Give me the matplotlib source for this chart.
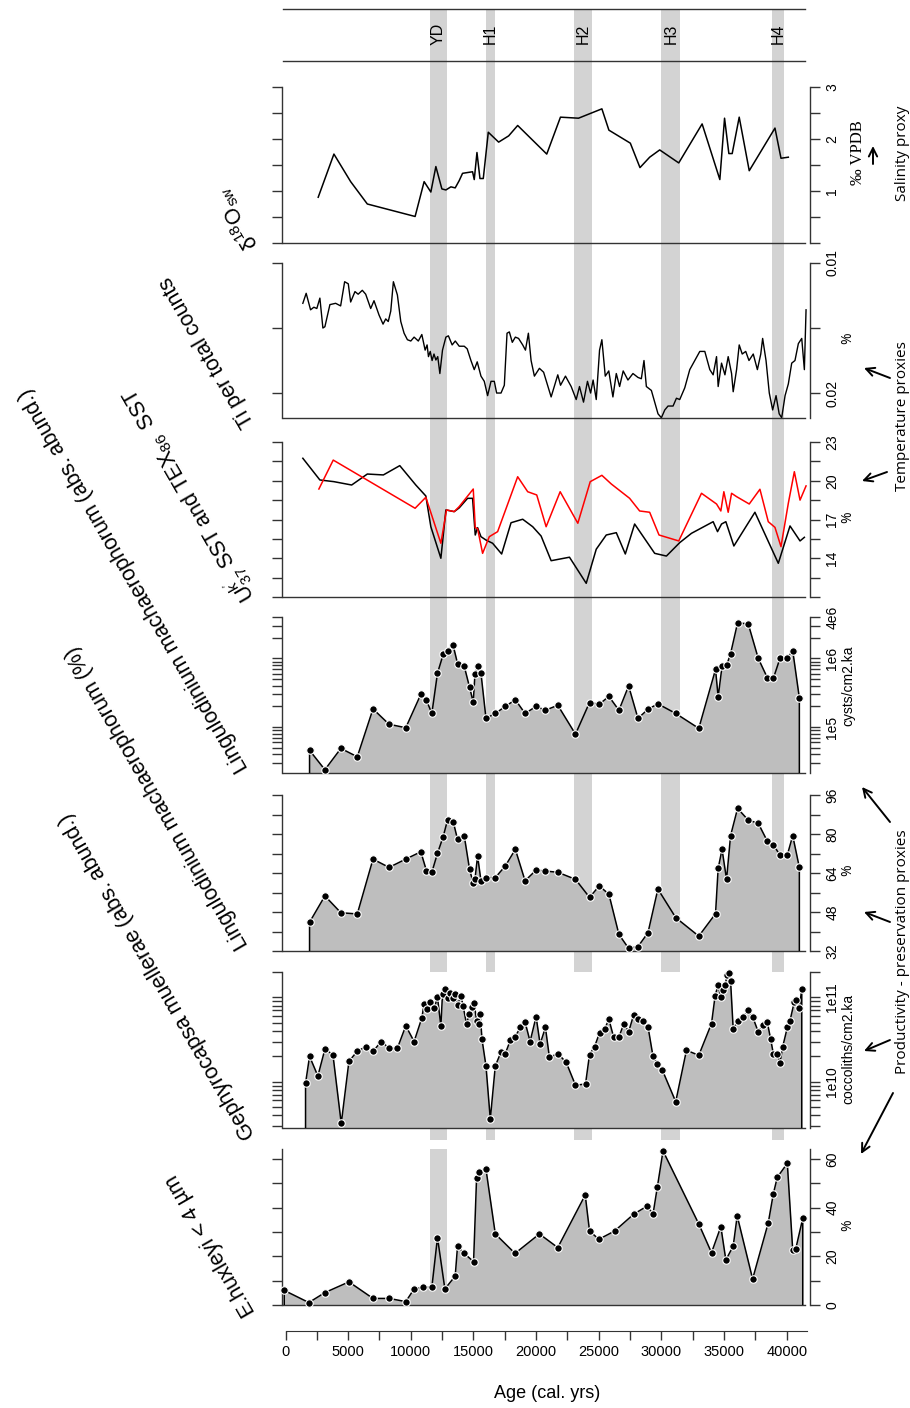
import matplotlib
matplotlib.use('Agg')
import matplotlib.pyplot as plt
from matplotlib.ticker import NullLocator

plt.rcParams['font.family'] = ['Liberation Sans', 'DejaVu Sans']
plt.rcParams['mathtext.fontset'] = 'custom'
plt.rcParams['mathtext.rm'] = 'Liberation Sans'
plt.rcParams['mathtext.it'] = 'Liberation Sans:italic'

# ---------------- data ----------------
event_names = ['YD', 'H1', 'H2', 'H3', 'H4']
event_start = [11500, 16000, 23000, 30000, 38800]
event_end = [12900, 16700, 24500, 31500, 39800]

d18o_age = [2610, 3864, 5200, 6530, 10344, 11064, 11600, 12000, 12480, 12800,
            13200, 13544, 13864, 14130, 14930, 15064, 15280, 15520, 15784, 16184,
            17010, 17810, 18530, 20850, 21944, 23384, 25250, 25810, 27520, 28290,
            29064, 29864, 31384, 33250, 34664, 35040, 35384, 35650, 36210, 37010,
            39064, 39544, 40130]
d18o_val = [0.88, 1.71, 1.18, 0.75, 0.51, 1.18, 0.98, 1.47, 1.04, 1.02,
            1.08, 1.06, 1.20, 1.34, 1.37, 1.22, 1.74, 1.24, 1.24, 2.13,
            1.94, 2.06, 2.26, 1.71, 2.42, 2.40, 2.58, 2.17, 1.92, 1.45,
            1.65, 1.79, 1.54, 2.29, 1.22, 2.40, 1.72, 1.72, 2.42, 1.39,
            2.21, 1.63, 1.65]

ti_age = [1384, 1650, 2000, 2264, 2500, 2744, 2984, 3144, 3544, 4000,
          4400, 4720, 5010, 5200, 5544, 5800, 6130, 6400, 6800, 7064,
          7464, 7784, 8000, 8200, 8400, 8610, 8930, 9200, 9464, 9730,
          10000, 10264, 10600, 10880, 11144, 11300, 11410, 11550, 11700, 11850,
          12000, 12150, 12320, 12530, 12800, 13000, 13300, 13550, 13864, 14264,
          14500, 14800, 15064, 15300, 15600, 15864, 16130, 16400, 16664, 16850,
          17200, 17464, 17680, 17864, 18100, 18344, 18600, 18930, 19150, 19384,
          19600, 19864, 20264, 20600, 21200, 21730, 21950, 22344, 22800, 23200,
          23464, 23784, 24100, 24350, 24550, 24800, 25064, 25250, 25520, 25800,
          26130, 26400, 26664, 26950, 27330, 27730, 28130, 28400, 28610, 28800,
          29200, 29464, 29730, 30000, 30270, 30530, 30930, 31200, 31464, 31864,
          32264, 33064, 33464, 33864, 34130, 34400, 34530, 34800, 35070, 35330,
          35600, 35730, 36000, 36210, 36450, 36730, 36990, 37330, 37660, 37930,
          38080, 38350, 38610, 38880, 39150, 39400, 39600, 39870, 40130, 40400,
          40660, 40930, 41200, 41410, 41544]
ti_val = [0.0131, 0.01233, 0.0136, 0.0134, 0.0135, 0.0127, 0.0150, 0.0149, 0.0132, 0.0131,
          0.0133, 0.01144, 0.0116, 0.0130, 0.0122, 0.0124, 0.0121, 0.0124, 0.0135, 0.0129,
          0.0140, 0.0147, 0.0143, 0.0145, 0.0137, 0.01144, 0.01246, 0.0145, 0.0154, 0.0159,
          0.0160, 0.0157, 0.0160, 0.0155, 0.0167, 0.0163, 0.0172, 0.0168, 0.0175, 0.0170,
          0.01746, 0.0172, 0.0185, 0.0167, 0.0157, 0.0156, 0.0163, 0.0160, 0.0164, 0.0164,
          0.0166, 0.0175, 0.0182, 0.0176, 0.0187, 0.0191, 0.0202, 0.0191, 0.0191, 0.0200,
          0.0200, 0.0194, 0.0154, 0.0153, 0.0161, 0.0157, 0.0158, 0.0163, 0.0167, 0.0154,
          0.0175, 0.0187, 0.0181, 0.0184, 0.0203, 0.0186, 0.0194, 0.0187, 0.0195, 0.0205,
          0.0195, 0.0207, 0.0191, 0.0200, 0.0190, 0.0205, 0.0167, 0.0159, 0.0187, 0.0183,
          0.0203, 0.0185, 0.0195, 0.0183, 0.0190, 0.0185, 0.0188, 0.0189, 0.0175, 0.0195,
          0.0198, 0.0207, 0.0216, 0.0219, 0.0213, 0.0210, 0.0210, 0.0204, 0.0205, 0.0196,
          0.0182, 0.0168, 0.0168, 0.0182, 0.0186, 0.0172, 0.0195, 0.0177, 0.0186, 0.0172,
          0.0185, 0.0199, 0.0182, 0.0163, 0.0170, 0.0168, 0.0175, 0.0170, 0.0182, 0.0170,
          0.0158, 0.0175, 0.0200, 0.0213, 0.0202, 0.0216, 0.0219, 0.0202, 0.0193, 0.0177,
          0.0175, 0.0162, 0.0158, 0.0182, 0.0136]

uk37_age = [1384, 2744, 3864, 5280, 6530, 7810, 9120, 10400, 11200, 11600,
            12400, 12800, 13464, 13864, 14530, 14930, 15144, 15330, 15600, 16000,
            16530, 17250, 18000, 18930, 19730, 20400, 21200, 22664, 24000, 24800,
            25600, 26400, 27120, 27864, 29464, 30400, 31464, 32400, 34130, 34480,
            34800, 35144, 35784, 37464, 39330, 40264, 41064, 41410]
uk37_sst = [21.74, 20.06, 19.93, 19.67, 20.52, 20.45, 21.17, 19.67, 18.82, 16.44,
            14.0, 17.74, 17.61, 17.9, 18.64, 18.64, 15.8, 16.37, 15.67, 15.41,
            15.16, 14.33, 16.75, 17.02, 16.44, 15.72, 13.81, 14.08, 12.06, 14.7,
            15.8, 15.98, 14.33, 16.65, 14.38, 14.17, 15.21, 15.93, 16.83, 16.06,
            16.65, 16.83, 14.95, 17.56, 13.61, 16.5, 15.34, 15.62]

tex86_age = [2664, 3810, 10344, 11200, 12400, 12850, 13464, 13864, 14984, 15144,
             15330, 15730, 16264, 16930, 18530, 19330, 20050, 20800, 21920, 23330,
             24320, 25250, 26000, 27464, 28264, 29064, 29810, 31384, 33200, 34400,
             34744, 34984, 35330, 35600, 36000, 37010, 37864, 38530, 39064, 39544,
             40130, 40610, 41064, 41544]
tex86_sst = [19.36, 21.6, 17.87, 18.72, 15.16, 17.74, 17.61, 18.0, 19.36, 16.37,
             16.3, 14.38, 15.67, 16.06, 20.31, 19.15, 18.9, 16.44, 19.15, 16.71,
             19.93, 20.42, 19.75, 18.64, 17.66, 17.56, 15.8, 15.34, 19.03, 18.2,
             17.66, 19.15, 17.56, 19.03, 18.77, 18.2, 19.34, 16.83, 16.39, 14.9,
             18.26, 20.7, 18.5, 19.6]

dino_age = [1920, 3144, 4420, 5730, 6984, 8264, 9600, 10800, 11250, 11680,
            12130, 12584, 12930, 13384, 13730, 14264, 14690, 14984, 15120, 15330,
            15600, 16000, 16744, 17544, 18344, 19120, 20000, 20744, 21730, 23144,
            24264, 25040, 25810, 26610, 27384, 28130, 28930, 29720, 31144, 32984,
            34320, 34530, 34840, 35200, 35520, 36080, 36930, 37730, 38450, 38930,
            39464, 40050, 40480, 41010]
ling_abs = [4.6e4, 2.4e4, 4.9e4, 3.7e4, 1.84e5, 1.1e5, 9.8e4, 3.0e5, 2.46e5, 1.58e5,
            6.1e5, 1.14e6, 1.3e6, 1.54e6, 8.4e5, 7.7e5, 3.8e5, 2.3e5, 5.9e5, 7.7e5,
            6.1e5, 1.34e5, 1.58e5, 2.0e5, 2.5e5, 1.58e5, 2.0e5, 1.76e5, 2.08e5, 7.9e4,
            2.28e5, 2.15e5, 2.8e5, 1.76e5, 3.97e5, 1.34e5, 1.82e5, 2.18e5, 1.58e5, 9.6e4,
            6.9e5, 2.75e5, 7.7e5, 7.9e5, 1.17e6, 3.29e6, 3.18e6, 1.0e6, 5.25e5, 5.1e5,
            1.0e6, 1.0e6, 1.3e6, 2.66e5]
ling_pct = [43.8, 54.6, 47.7, 47.2, 69.7, 66.3, 69.7, 72.7, 64.9, 64.3,
            72.1, 78.9, 85.7, 85.1, 77.8, 79.3, 65.5, 59.8, 61.4, 71.0,
            60.8, 62.1, 62.1, 66.9, 73.7, 60.8, 65.2, 64.8, 64.3, 61.4,
            54.0, 58.7, 55.3, 38.8, 33.1, 33.8, 39.5, 57.4, 45.7, 38.1,
            47.3, 65.9, 73.7, 61.4, 79.3, 90.5, 85.7, 84.4, 77.1, 75.5,
            71.4, 71.4, 79.3, 66.3]

geph_age = [1600, 1920, 2584, 3144, 3784, 4450, 5064, 5730, 6400, 6984,
            7650, 8264, 8930, 9600, 10264, 10880, 11064, 11280, 11520, 11864,
            12130, 12400, 12530, 12720, 12930, 13120, 13330, 13544, 13730, 14000,
            14184, 14450, 14664, 14880, 15064, 15250, 15410, 15544, 15680, 16000,
            16344, 16744, 17200, 17544, 17944, 18320, 18744, 19120, 19520, 20000,
            20320, 20744, 21064, 21730, 22400, 23144, 23944, 24264, 24664, 25064,
            25464, 25810, 26184, 26610, 27010, 27384, 27784, 28130, 28530, 28930,
            29330, 29680, 30080, 31144, 32000, 32984, 34000, 34290, 34530, 34744,
            34880, 35090, 35250, 35410, 35520, 35730, 36080, 36530, 36930, 37280,
            37730, 38080, 38450, 38720, 38930, 39250, 39464, 39680, 40050, 40264,
            40610, 40744, 41010, 41200]
geph_abs = [9.6e9, 2.0e10, 1.17e10, 2.43e10, 2.1e10, 3.2e9, 1.75e10, 2.3e10, 2.6e10, 2.3e10,
            3.0e10, 2.5e10, 2.5e10, 4.6e10, 3.0e10, 5.7e10, 8.4e10, 7.3e10, 8.7e10, 7.4e10,
            1.0e11, 4.6e10, 1.1e11, 1.26e11, 9.8e10, 1.12e11, 9.8e10, 1.1e11, 8.1e10, 1.05e11,
            7.8e10, 4.8e10, 6.4e10, 7.6e10, 8.5e10, 5.3e10, 4.8e10, 6.3e10, 3.2e10, 1.54e10,
            3.6e9, 1.54e10, 2.25e10, 2.16e10, 3.1e10, 3.4e10, 4.4e10, 5.1e10, 3.0e10, 5.9e10,
            2.8e10, 4.4e10, 1.94e10, 2.16e10, 1.7e10, 9.1e9, 9.4e9, 2.1e10, 2.6e10, 3.8e10,
            4.2e10, 5.5e10, 3.4e10, 3.4e10, 4.9e10, 3.9e10, 6.2e10, 5.5e10, 5.3e10, 4.5e10,
            2.0e10, 1.64e10, 1.37e10, 5.8e9, 2.36e10, 2.06e10, 4.9e10, 1.05e11, 1.41e11, 1.0e11,
            1.22e11, 1.41e11, 1.85e11, 1.97e11, 1.57e11, 4.2e10, 5.2e10, 5.9e10, 7.0e10, 5.9e10,
            3.9e10, 4.7e10, 5.1e10, 3.2e10, 2.16e10, 2.16e10, 1.67e10, 2.6e10, 4.4e10, 5.3e10,
            8.9e10, 9.3e10, 7.4e10, 1.26e11]

ehux_age = [-100, 1864, 3144, 5064, 6984, 8264, 9600, 10264, 10984, 11680,
            12130, 12720, 13544, 13730, 14264, 15010, 15250, 15464, 16000, 16744,
            18320, 20264, 21730, 23920, 24264, 25010, 26264, 27784, 28880, 29330,
            29680, 30130, 32984, 34000, 34744, 35144, 35730, 36050, 37280, 38530,
            38930, 39250, 40050, 40480, 40720, 41280]
ehux_pct = [6.0, 1.0, 5.1, 9.5, 2.7, 2.7, 1.4, 6.6, 7.3, 7.3,
            27.7, 6.6, 11.9, 24.2, 21.2, 17.8, 52.3, 54.8, 55.8, 29.2,
            21.2, 29.2, 23.6, 45.2, 30.4, 27.0, 30.4, 37.3, 40.7, 37.3,
            48.6, 63.3, 33.3, 21.5, 32.2, 18.5, 24.2, 36.6, 10.7, 33.8,
            45.6, 52.5, 58.2, 22.6, 23.0, 35.6]

age_ticks = [0, 5000, 10000, 15000, 20000, 25000, 30000, 35000, 40000]

# ---------------- layout helpers ----------------
W, H = 910, 1408
fig = plt.figure(figsize=(W / 100, H / 100), dpi=100)


def rect(x0, y0, x1, y1):
    return [x0 / W, 1 - y1 / H, (x1 - x0) / W, (y1 - y0) / H]


PX0, PXK = 285.5, 0.01253
XLIM = ((282 - PX0) / PXK, (810 - PX0) / PXK)
LINE_X = ((283 - PX0) / PXK, (805 - PX0) / PXK)
SPINE = '#333333'
FILL = '#bebebe'
BAND = '#d3d3d3'

# background event bands
bg = fig.add_axes(rect(282, 9, 810, 1140))
bg.set_xlim(XLIM)
bg.set_ylim(0, 1)
bg.axis('off')
for a0, a1 in zip(event_start, event_end):
    bg.axvspan(a0, a1, color=BAND, lw=0)

# top band with event names
top = fig.add_axes(rect(282, 9, 810, 61))
top.set_xlim(XLIM)
top.set_ylim(0, 1)
top.axis('off')
for yy in (0, 1):
    top.plot(LINE_X, [yy, yy], color=SPINE, lw=1.0, clip_on=False)
for name, a0, a1 in zip(event_names, event_start, event_end):
    top.text((a0 + a1) / 2, 0.52, name, rotation=90, ha='center', va='center', fontsize=11.5)


def panel(y0, y1, ylim, ticks, labels, log=False, face='none'):
    ax = fig.add_axes(rect(282, y0, 810, y1))
    ax.set_facecolor(face)
    if log:
        ax.set_yscale('log')
    ax.set_xlim(XLIM)
    ax.set_ylim(ylim)
    ax.spines['top'].set_visible(False)
    for s in ['left', 'right', 'bottom']:
        ax.spines[s].set_color(SPINE)
        ax.spines[s].set_linewidth(1.0)
    ax.spines['bottom'].set_bounds(*LINE_X)
    ax.tick_params(axis='x', which='both', bottom=False, labelbottom=False)
    ax.set_yticks(ticks)
    ax.set_yticklabels(labels)
    ax.yaxis.set_minor_locator(NullLocator())
    ax.tick_params(axis='y', which='major', left=True, right=True, labelleft=False,
                   labelright=True, direction='out', length=7.5, width=1.0,
                   color=SPINE, labelsize=10, pad=3.5)
    for t in ax.yaxis.get_major_ticks():
        t.label2.set_rotation(90)
        t.label2.set_va('center')
        t.label2.set_ha('left')
    return ax


def filled(ax, x, y, base):
    ax.fill_between(x, y, base, color=FILL, lw=0, zorder=2)
    ax.plot([x[0]] + list(x) + [x[-1]], [base] + list(y) + [base], color='black', lw=1.1, zorder=3)
    ax.plot(x, y, 'o', ms=5.4, mfc='black', mec='white', mew=0.8, zorder=4, clip_on=False)


def logticks(lo, hi):
    out = []
    for e in range(3, 13):
        for k in range(1, 10):
            v = k * 10.0 ** e
            if lo * 0.999 <= v <= hi * 1.001:
                out.append(v)
    return out


# d18O sw
ax1 = panel(87, 243, (0, 3), [0, 0.5, 1, 1.5, 2, 2.5, 3], ['', '', '1', '', '2', '', '3'])
ax1.plot(d18o_age, d18o_val, color='black', lw=1.1)

# Ti
ax2 = panel(263, 418, (0.02192, 0.01), [0.01, 0.015, 0.02], ['0.01', '', '0.02'])
ax2.plot(ti_age, ti_val, color='black', lw=1.0)

# SST
sst_ticks = [11 + 1.5 * i for i in range(9)]
sst_labels = [('%g' % t if t in (14, 17, 20, 23) else '') for t in sst_ticks]
ax3 = panel(442, 597, (11, 23), sst_ticks, sst_labels)
ax3.plot(uk37_age, uk37_sst, color='black', lw=1.1)
ax3.plot(tex86_age, tex86_sst, color='#ff0000', lw=1.1)

# Lingulodinium abs
lt = logticks(2.15e4, 4e6) + [4e6]
lt = sorted(set(lt))
ll = [{1e5: '1e5', 1e6: '1e6', 4e6: '4e6'}.get(v, '') for v in lt]
ax4 = panel(617, 773, (2.15e4, 4e6), lt, ll, log=True)
filled(ax4, dino_age, ling_abs, 2.15e4)

# Lingulodinium %
pt = list(range(32, 97, 8))
pl = [str(v) if v in (32, 48, 64, 80, 96) else '' for v in pt]
ax5 = panel(795, 951, (32, 96), pt, pl)
filled(ax5, dino_age, ling_pct, 32)

# Gephyrocapsa
gt = logticks(2.83e9, 2e11)
gl = [{1e10: '1e10', 1e11: '1e11'}.get(v, '') for v in gt]
ax6 = panel(972, 1128, (2.83e9, 2e11), gt, gl, log=True, face='white')
filled(ax6, geph_age, geph_abs, 2.83e9)

# E. huxleyi
et = list(range(0, 61, 10))
el = [str(v) if v in (0, 20, 40, 60) else '' for v in et]
ax7 = panel(1149, 1305, (0, 64.1), et, el, face='white')
ax7.axvspan(event_start[0], event_end[0], color=BAND, lw=0, zorder=1)
filled(ax7, ehux_age, ehux_pct, 0)

# Age axis
axx = fig.add_axes(rect(282, 1300, 810, 1331))
axx.patch.set_visible(False)
axx.set_xlim(XLIM)
for s in ['top', 'left', 'right']:
    axx.spines[s].set_visible(False)
axx.spines['bottom'].set_bounds(0, 41600)
axx.spines['bottom'].set_color(SPINE)
axx.set_yticks([])
axx.set_xticks(age_ticks)
axx.set_xticklabels([str(v) for v in age_ticks])
axx.set_xticks([2500 + 5000 * i for i in range(8)], minor=True)
axx.tick_params(axis='x', which='both', direction='out', length=6.5, width=1.0, color=SPINE,
                labelsize=10.5, pad=3.5)

# overlay for free text and arrows (pixel coordinates, y down)
ov = fig.add_axes([0, 0, 1, 1])
ov.set_xlim(0, W)
ov.set_ylim(H, 0)
ov.axis('off')

ov.text(547, 1394, 'Age (cal. yrs)', ha='center', va='center', fontsize=13)

left_labels = [
    (254, 248, r'δ$\mathregular{^{18}}$O$\mathregular{_{sw}}$'),
    (250, 425, 'Ti per total counts'),
    (249, 600, r"U$\mathregular{^{k'}_{37}}$ SST and TEX$\mathregular{_{86}}$  SST"),
    (244, 770, 'Lingulodinium machaerophorum (abs. abund.)'),
    (244, 947, 'Lingulodinium machaerophorum (%)'),
    (251, 1137, 'Gephyrocapsa muellerae (abs. abund.)'),
    (251, 1314, 'E.huxleyi < 4 µm'),
]
for x, y, s in left_labels:
    ov.text(x, y, s, rotation=120, rotation_mode='anchor', ha='left', va='center', fontsize=15.5)

ov.text(858, 153, '‰ VPDB', rotation=90, ha='center', va='center', fontsize=12,
        family=['Liberation Serif', 'DejaVu Serif'])
for y in (338, 517, 870, 1225):
    ov.text(848, y, '%', rotation=90, ha='center', va='center', fontsize=10, family=['Open Sans', 'DejaVu Sans'])
ov.text(848, 686, 'cysts/cm2.ka', rotation=90, ha='center', va='center', fontsize=10)
ov.text(848, 1049, 'coccoliths/cm2.ka', rotation=90, ha='center', va='center', fontsize=10)

side = [(902, 153, 'Salinity proxy'), (902, 416, 'Temperature proxies'),
        (902, 952, 'Productivity - preservation proxies')]
for x, y, s in side:
    ov.text(x, y, s, rotation=90, ha='center', va='center', fontsize=11, family=['Open Sans', 'DejaVu Sans'])

arrows = [((873, 164), (873, 146)), ((890, 378), (864, 368)), ((887, 472), (862, 481)),
          ((890, 822), (862, 787)), ((890, 922), (864, 912)), ((890, 1040), (864, 1051)),
          ((893, 1093), (861, 1154))]
for tail, head in arrows:
    ov.annotate('', xy=head, xytext=tail,
                arrowprops=dict(arrowstyle='->,head_length=0.5,head_width=0.25', lw=1.4,
                                color='black', mutation_scale=12, shrinkA=0, shrinkB=0))

fig.savefig('out.png', dpi=100)
